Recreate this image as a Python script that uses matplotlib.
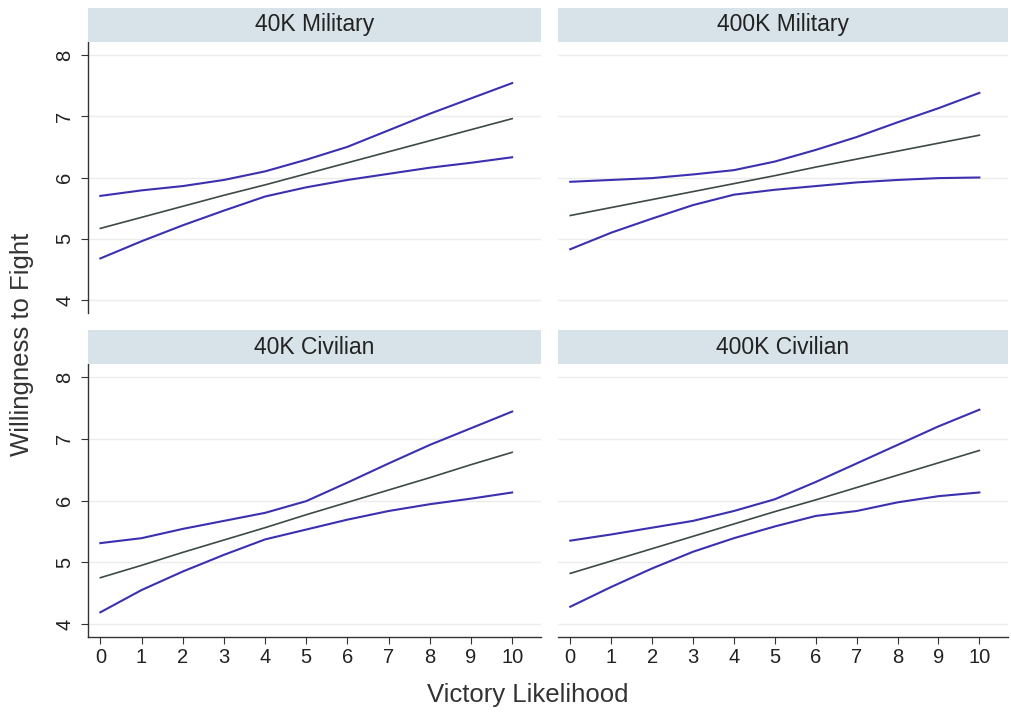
import matplotlib
matplotlib.use("Agg")
import matplotlib.pyplot as plt
import numpy as np

plt.rcParams['font.family'] = ['Liberation Sans', 'DejaVu Sans']

x = list(range(11))
panel_titles = ["40K Military", "400K Military", "40K Civilian", "400K Civilian"]

mil40_mean = [5.17, 5.35, 5.53, 5.71, 5.88, 6.06, 6.24, 6.42, 6.60, 6.78, 6.96]
mil40_upper = [5.70, 5.79, 5.86, 5.96, 6.10, 6.29, 6.50, 6.77, 7.04, 7.29, 7.54]
mil40_lower = [4.68, 4.96, 5.22, 5.46, 5.69, 5.84, 5.96, 6.06, 6.16, 6.24, 6.33]

mil400_mean = [5.38, 5.51, 5.64, 5.77, 5.90, 6.03, 6.17, 6.30, 6.43, 6.56, 6.69]
mil400_upper = [5.93, 5.96, 5.99, 6.05, 6.12, 6.26, 6.45, 6.66, 6.90, 7.13, 7.38]
mil400_lower = [4.83, 5.10, 5.33, 5.55, 5.72, 5.80, 5.86, 5.92, 5.96, 5.99, 6.00]

civ40_mean = [4.75, 4.95, 5.16, 5.36, 5.56, 5.77, 5.97, 6.17, 6.37, 6.58, 6.78]
civ40_upper = [5.31, 5.39, 5.54, 5.67, 5.80, 5.99, 6.29, 6.60, 6.90, 7.17, 7.44]
civ40_lower = [4.19, 4.55, 4.85, 5.12, 5.37, 5.53, 5.69, 5.83, 5.94, 6.03, 6.13]

civ400_mean = [4.82, 5.02, 5.22, 5.42, 5.62, 5.82, 6.01, 6.21, 6.41, 6.61, 6.81]
civ400_upper = [5.35, 5.45, 5.56, 5.67, 5.83, 6.02, 6.30, 6.60, 6.90, 7.20, 7.47]
civ400_lower = [4.28, 4.60, 4.90, 5.17, 5.39, 5.58, 5.75, 5.83, 5.97, 6.07, 6.13]

yticks = [4, 5, 6, 7, 8]
xticks = list(range(11))

series = [
    (mil40_mean, mil40_upper, mil40_lower),
    (mil400_mean, mil400_upper, mil400_lower),
    (civ40_mean, civ40_upper, civ40_lower),
    (civ400_mean, civ400_upper, civ400_lower),
]

W, H = 1011, 714
fig = plt.figure(figsize=(W / 100, H / 100), dpi=100)

ci_color = "#3a30b0"
mean_color = "#3d4a48"
strip_color = "#d7e3e9"
grid_color = "#ececec"

cols = [(88, 541), (558, 1008)]
rows = [(42, 313), (364, 637)]
strip_h = 34

def fx(px):
    return px / W

def fy(py):
    return 1 - py / H

for i, (mean, up, lo) in enumerate(series):
    r, c = divmod(i, 2)
    l, rr = cols[c]
    t, b = rows[r]
    ax = fig.add_axes([fx(l), fy(b), fx(rr) - fx(l), fy(t) - fy(b)])
    ax.plot(x, up, color=ci_color, lw=1.5)
    ax.plot(x, lo, color=ci_color, lw=1.5)
    ax.plot(x, mean, color=mean_color, lw=1.2)
    ax.set_xlim(-0.3, 10.7)
    ax.set_ylim(3.79, 8.21)
    ax.set_yticks(yticks)
    ax.set_xticks(xticks)
    ax.grid(axis='y', color=grid_color, lw=1)
    ax.set_axisbelow(True)
    for s in ['top', 'right']:
        ax.spines[s].set_visible(False)
    ax.spines['left'].set_visible(c == 0)
    ax.spines['bottom'].set_visible(r == 1)
    for s in ['left', 'bottom']:
        ax.spines[s].set_color("#333333")
        ax.spines[s].set_linewidth(1.0)
    ax.tick_params(axis='y', left=(c == 0), labelleft=(c == 0), labelsize=14.5,
                   length=5, color="#333333", labelcolor="#222222", pad=5)
    ax.tick_params(axis='x', bottom=(r == 1), labelbottom=(r == 1), labelsize=14.5,
                   length=5, color="#333333", labelcolor="#222222", pad=3)
    if c == 0:
        for lab in ax.get_yticklabels():
            lab.set_rotation(90)
            lab.set_va('center')
    sax = fig.add_axes([fx(l), fy(t), fx(rr) - fx(l), fy(t - strip_h) - fy(t)])
    sax.set_facecolor(strip_color)
    sax.set_xticks([])
    sax.set_yticks([])
    for s in sax.spines.values():
        s.set_visible(False)
    sax.text(0.5, 0.5, panel_titles[i], ha='center', va='center', fontsize=16.5,
             color="#222222", transform=sax.transAxes)

fig.text(fx(528), fy(695), "Victory Likelihood", ha='center', va='center',
         fontsize=18.5, color="#333333")
fig.text(fx(22), fy(344), "Willingness to Fight", ha='center', va='center',
         rotation=90, fontsize=18.5, color="#333333")

fig.savefig("out.png", dpi=100)
